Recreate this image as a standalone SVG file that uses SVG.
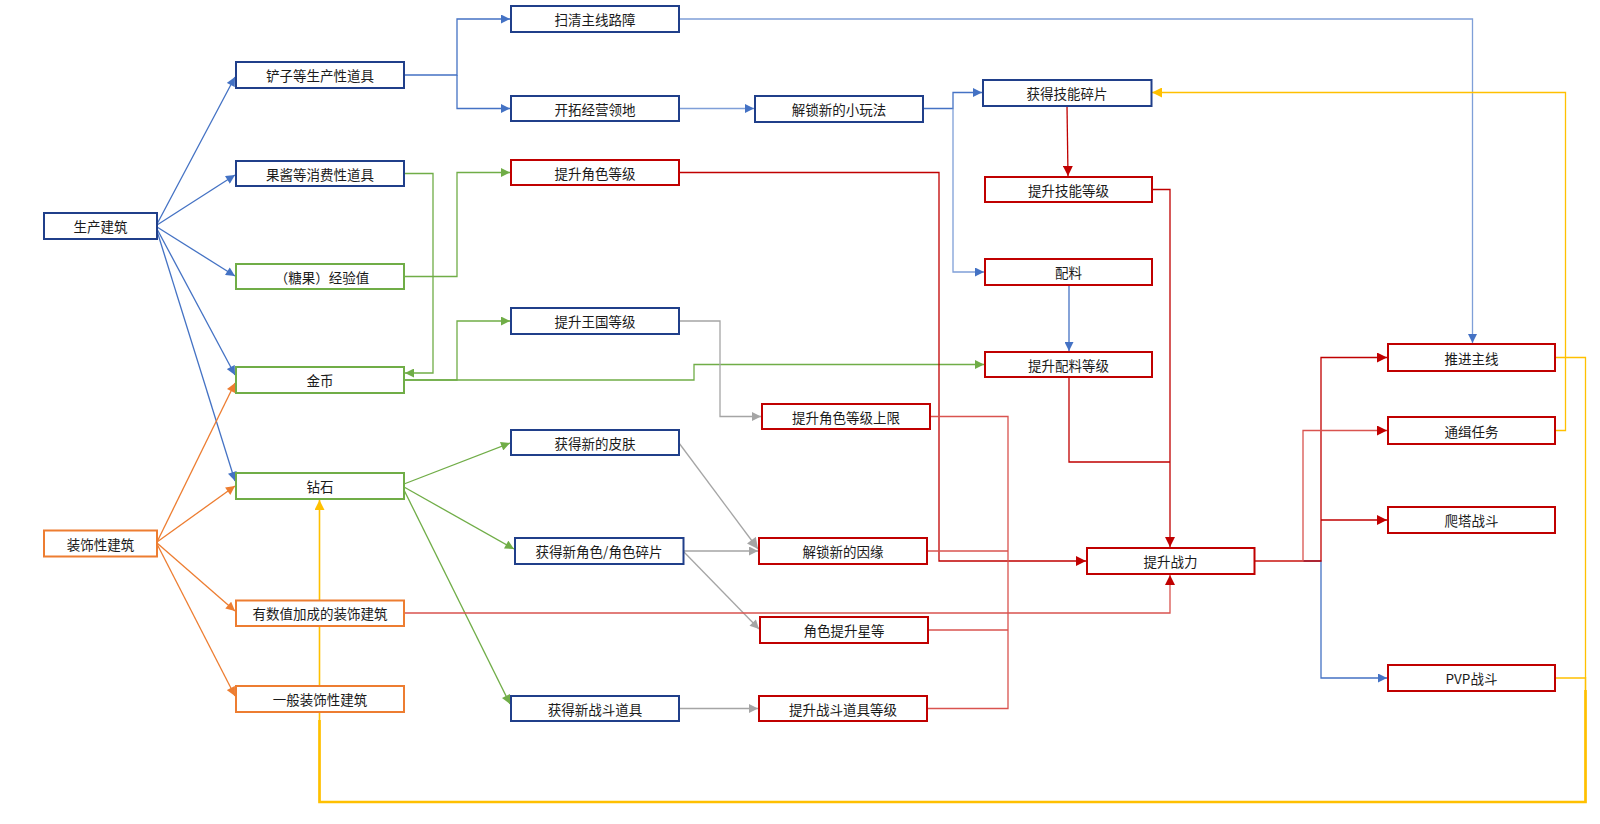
<svg xmlns="http://www.w3.org/2000/svg" width="1600" height="824" viewBox="0 0 1600 824">
<defs>
<style>
.n rect{fill:#fff;stroke-width:2}
.nv rect{stroke:#203F8A}
.gr rect{stroke:#70AD47}
.or rect{stroke:#ED7D31}
.rd rect{stroke:#C00000}
.n text{font-family:"Noto Sans CJK SC","Microsoft YaHei",sans-serif;font-size:13.5px;fill:#1a1a1a;text-anchor:middle;dominant-baseline:central}
.c path{fill:none;stroke-width:1.3}
.b{stroke:#4472C4}
.bl{stroke:#7F9FD8}
.g{stroke:#70AD47}
.o{stroke:#ED7D31}
.gy{stroke:#A5A5A5}
.r{stroke:#C00000}
.rl{stroke:#D9534F}
.y{stroke:#FFC000}
</style>
<marker id="aB" viewBox="0 0 10 10" refX="10" refY="5" markerWidth="10" markerHeight="9" markerUnits="userSpaceOnUse" orient="auto"><path d="M0,0 L10,5 L0,10 z" fill="#4472C4"/></marker>
<marker id="aG" viewBox="0 0 10 10" refX="10" refY="5" markerWidth="10" markerHeight="9" markerUnits="userSpaceOnUse" orient="auto"><path d="M0,0 L10,5 L0,10 z" fill="#70AD47"/></marker>
<marker id="aO" viewBox="0 0 10 10" refX="10" refY="5" markerWidth="10" markerHeight="9" markerUnits="userSpaceOnUse" orient="auto"><path d="M0,0 L10,5 L0,10 z" fill="#ED7D31"/></marker>
<marker id="aGy" viewBox="0 0 10 10" refX="10" refY="5" markerWidth="10" markerHeight="9" markerUnits="userSpaceOnUse" orient="auto"><path d="M0,0 L10,5 L0,10 z" fill="#A5A5A5"/></marker>
<marker id="aGyL" viewBox="0 0 10 10" refX="10" refY="5" markerWidth="12" markerHeight="11" markerUnits="userSpaceOnUse" orient="auto"><path d="M0,0 L10,5 L0,10 z" fill="#A5A5A5"/></marker>
<marker id="aR" viewBox="0 0 10 10" refX="10" refY="5" markerWidth="10" markerHeight="10" markerUnits="userSpaceOnUse" orient="auto"><path d="M0,0 L10,5 L0,10 z" fill="#C00000"/></marker>
<marker id="aY" viewBox="0 0 10 10" refX="10" refY="5" markerWidth="10" markerHeight="10" markerUnits="userSpaceOnUse" orient="auto"><path d="M0,0 L10,5 L0,10 z" fill="#FFC000"/></marker>
</defs>
<rect width="1600" height="824" fill="#fff"/>
<g id="connectors" class="c">
<path class="b" d="M157,224 L235,77" marker-end="url(#aB)"/>
<path class="b" d="M157,225 L235,175" marker-end="url(#aB)"/>
<path class="b" d="M157,227 L235,276" marker-end="url(#aB)"/>
<path class="b" d="M157,229 L235,375" marker-end="url(#aB)"/>
<path class="b" d="M157,231 L235,481" marker-end="url(#aB)"/>
<path class="b" d="M404,75 H457 V19 H510" marker-end="url(#aB)"/>
<path class="b" d="M457,75 V108.5 H510" marker-end="url(#aB)"/>
<path class="bl" d="M679,108.5 H754" marker-end="url(#aB)"/>
<path class="b" d="M923,108.5 H953 V92.5 H982" marker-end="url(#aB)"/>
<path class="bl" d="M953,108.5 V272 H984" marker-end="url(#aB)"/>
<path class="b" d="M1069,285 V351" marker-end="url(#aB)"/>
<path class="bl" d="M679,19 H1472.5 V343" marker-end="url(#aB)"/>
<path class="b" d="M1303,561 H1321 V678 H1387" marker-end="url(#aB)"/>
<path class="g" d="M404,173.5 H433 V373 H405" marker-end="url(#aG)"/>
<path class="g" d="M404,276.5 H457 V172.5 H510" marker-end="url(#aG)"/>
<path class="g" d="M404,380 H457 V321 H510" marker-end="url(#aG)"/>
<path class="g" d="M404,380 H694 V364.5 H984" marker-end="url(#aG)"/>
<path class="g" d="M404,484 L510,443" marker-end="url(#aG)"/>
<path class="g" d="M404,487 L514,549" marker-end="url(#aG)"/>
<path class="g" d="M404,490 L510,704" marker-end="url(#aG)"/>
<path class="o" d="M157,542 L235,383" marker-end="url(#aO)"/>
<path class="o" d="M157,542 L235,486" marker-end="url(#aO)"/>
<path class="o" d="M157,543 L235,611" marker-end="url(#aO)"/>
<path class="o" d="M157,544 L235,696" marker-end="url(#aO)"/>
<path class="gy" d="M679,321 H720 V416.5 H761" marker-end="url(#aGy)"/>
<path class="gy" d="M679,443 L758,549" marker-end="url(#aGyL)"/>
<path class="gy" d="M684,551 H758" marker-end="url(#aGy)"/>
<path class="gy" d="M684,552 L759,629" marker-end="url(#aGy)"/>
<path class="gy" d="M679,708.5 H758" marker-end="url(#aGy)"/>
<path class="r" d="M1067,106 L1068,176" marker-end="url(#aR)"/>
<path class="r" d="M679,172.5 H939 V561 H1086" marker-end="url(#aR)"/>
<path class="rl" d="M930,416.5 H1008 V708.5 H927"/>
<path class="rl" d="M927,551 H1008"/>
<path class="rl" d="M928,630 H1008"/>
<path class="r" d="M1152,189.5 H1170 V547" marker-end="url(#aR)"/>
<path class="r" d="M1069,377 V462 H1170"/>
<path class="rl" d="M404,613 H1170 V575" marker-end="url(#aR)"/>
<path class="r" d="M1254.5,561 H1321 V357.5 H1387" marker-end="url(#aR)"/>
<path class="r" d="M1321,520 H1387" marker-end="url(#aR)"/>
<path class="rl" d="M1254.5,561 H1303 V430.5 H1387" marker-end="url(#aR)"/>
<path class="y" d="M1555,430.5 H1565.5 V92.5 H1152" marker-end="url(#aY)"/>
<path class="y" d="M1555,357.5 H1585.5 V678"/>
<path class="y" style="stroke-width:1.6" d="M1555,678 H1585.5 V802 H319.5 V500" marker-end="url(#aY)"/>
<path class="y" style="stroke-width:2.6" d="M1585.5,690 V802 H319.5 V720"/>
</g>
<g id="n1" class="n nv"><rect x="44" y="213" width="113" height="26"/><text x="100.5" y="226">生产建筑</text></g>
<g id="n2" class="n or"><rect x="44" y="530.5" width="113" height="26"/><text x="100.5" y="543.5">装饰性建筑</text></g>
<g id="n3" class="n nv"><rect x="236" y="62" width="168" height="26"/><text x="320" y="75">铲子等生产性道具</text></g>
<g id="n4" class="n nv"><rect x="236" y="161" width="168" height="25"/><text x="320" y="173.5">果酱等消费性道具</text></g>
<g id="n5" class="n gr"><rect x="236" y="264" width="168" height="25"/><text x="322" y="276.5">（糖果）经验值</text></g>
<g id="n6" class="n gr"><rect x="236" y="367" width="168" height="26"/><text x="320" y="380">金币</text></g>
<g id="n7" class="n gr"><rect x="236" y="473" width="168" height="26"/><text x="320" y="486">钻石</text></g>
<g id="n8" class="n or"><rect x="236" y="600.5" width="168" height="25.5"/><text x="320" y="613">有数值加成的装饰建筑</text></g>
<g id="n9" class="n or"><rect x="236" y="686" width="168" height="26"/><text x="320" y="699">一般装饰性建筑</text></g>
<g id="n10" class="n nv"><rect x="511" y="6" width="168" height="26"/><text x="595" y="19">扫清主线路障</text></g>
<g id="n11" class="n nv"><rect x="511" y="96" width="168" height="25"/><text x="595" y="108.5">开拓经营领地</text></g>
<g id="n12" class="n rd"><rect x="511" y="160" width="168" height="25"/><text x="595" y="172.5">提升角色等级</text></g>
<g id="n13" class="n nv"><rect x="511" y="308" width="168" height="26"/><text x="595" y="321">提升王国等级</text></g>
<g id="n14" class="n nv"><rect x="511" y="430" width="168" height="25"/><text x="595" y="442.5">获得新的皮肤</text></g>
<g id="n15" class="n nv"><rect x="515" y="538" width="168.5" height="26"/><text x="599" y="551">获得新角色/角色碎片</text></g>
<g id="n16" class="n nv"><rect x="511" y="696" width="168" height="25"/><text x="595" y="708.5">获得新战斗道具</text></g>
<g id="n17" class="n nv"><rect x="755" y="96" width="168" height="26"/><text x="839" y="109">解锁新的小玩法</text></g>
<g id="n18" class="n rd"><rect x="762" y="404" width="168" height="25"/><text x="846" y="416.5">提升角色等级上限</text></g>
<g id="n19" class="n rd"><rect x="759" y="538" width="168" height="26"/><text x="843" y="551">解锁新的因缘</text></g>
<g id="n20" class="n rd"><rect x="760" y="617" width="168" height="26"/><text x="844" y="630">角色提升星等</text></g>
<g id="n21" class="n rd"><rect x="759" y="696" width="168" height="25"/><text x="843" y="708.5">提升战斗道具等级</text></g>
<g id="n22" class="n nv"><rect x="983" y="80" width="168.5" height="26"/><text x="1067" y="93">获得技能碎片</text></g>
<g id="n23" class="n rd"><rect x="985" y="177" width="167" height="25"/><text x="1068.5" y="189.5">提升技能等级</text></g>
<g id="n24" class="n rd"><rect x="985" y="259" width="167" height="26"/><text x="1068.5" y="272">配料</text></g>
<g id="n25" class="n rd"><rect x="985" y="352" width="167" height="25"/><text x="1068.5" y="364.5">提升配料等级</text></g>
<g id="n26" class="n rd"><rect x="1087" y="548" width="167.5" height="26"/><text x="1170.5" y="561">提升战力</text></g>
<g id="n27" class="n rd"><rect x="1388" y="344" width="167" height="27"/><text x="1471.5" y="357.5">推进主线</text></g>
<g id="n28" class="n rd"><rect x="1388" y="417" width="167" height="27"/><text x="1471.5" y="430.5">通缉任务</text></g>
<g id="n29" class="n rd"><rect x="1388" y="507" width="167" height="26"/><text x="1471.5" y="520">爬塔战斗</text></g>
<g id="n30" class="n rd"><rect x="1388" y="665" width="167" height="26"/><text x="1471.5" y="678">PVP战斗</text></g>
</svg>
